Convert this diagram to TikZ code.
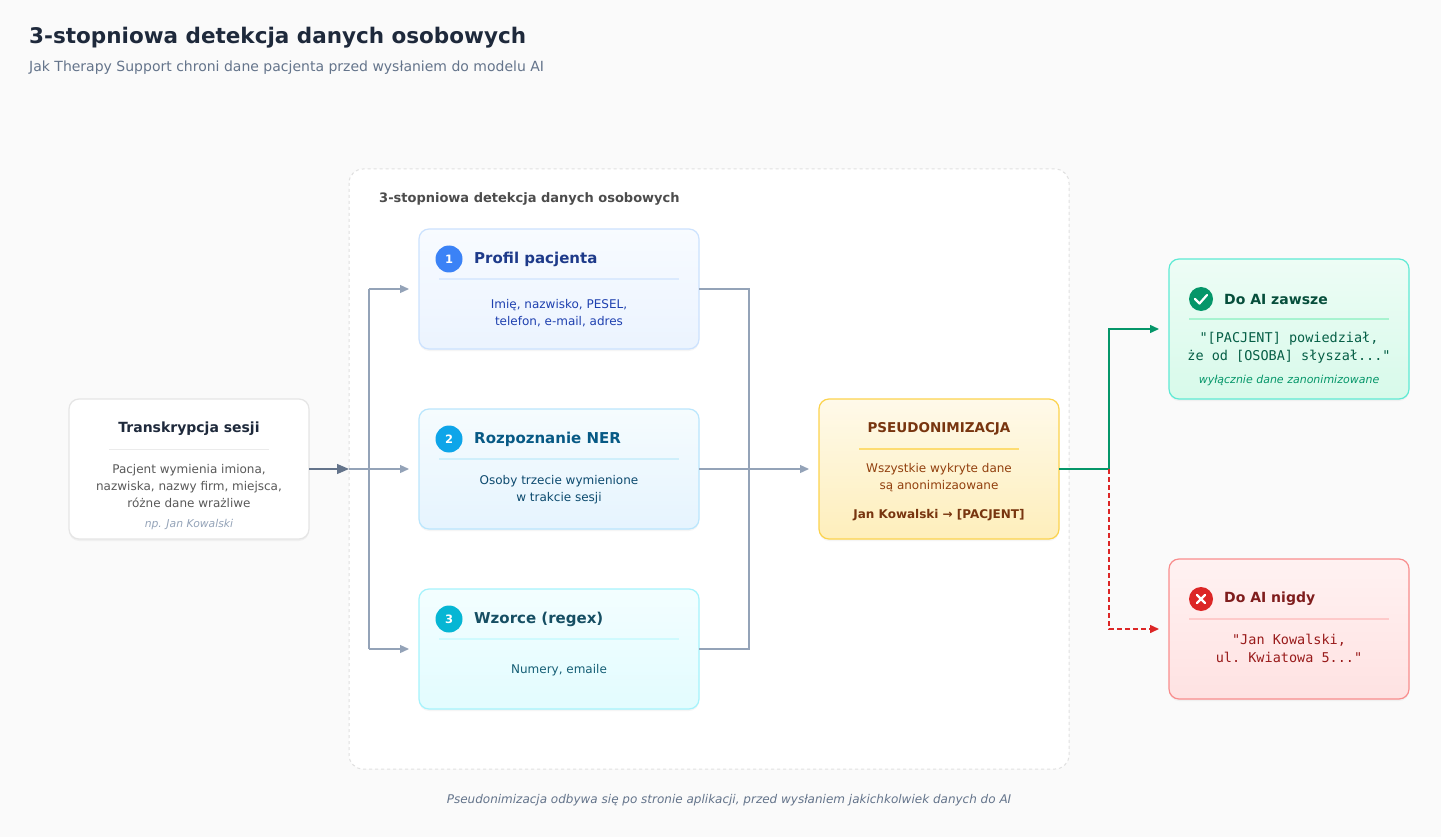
\documentclass[tikz,border=0pt]{standalone}
\usepackage{fontspec}
\setmainfont{DejaVu Sans}
\setmonofont{DejaVu Sans Mono}
\usetikzlibrary{arrows.meta,shadows}
\definecolor{bg}{HTML}{FAFAFA}
\definecolor{slate}{HTML}{64748B}
\definecolor{lslate}{HTML}{94A3B8}
\definecolor{dark}{HTML}{1E293B}
\definecolor{b1f}{HTML}{3B82F6}\definecolor{b1t}{HTML}{1E3A8A}\definecolor{b1x}{HTML}{1E40AF}\definecolor{b1s}{HTML}{BFDBFE}\definecolor{b1l}{HTML}{DBEAFE}
\definecolor{b2f}{HTML}{0EA5E9}\definecolor{b2t}{HTML}{075985}\definecolor{b2x}{HTML}{0C4A6E}\definecolor{b2s}{HTML}{BAE6FD}\definecolor{b2l}{HTML}{CFEFFB}
\definecolor{b3f}{HTML}{06B6D4}\definecolor{b3t}{HTML}{164E63}\definecolor{b3x}{HTML}{155E75}\definecolor{b3s}{HTML}{A5F3FC}\definecolor{b3l}{HTML}{CFFAFE}
\definecolor{pt}{HTML}{78350F}\definecolor{px}{HTML}{92400E}\definecolor{ps}{HTML}{FCD34D}
\definecolor{gf}{HTML}{059669}\definecolor{gt}{HTML}{064E3B}\definecolor{gx}{HTML}{065F46}\definecolor{gs}{HTML}{5EEAD4}\definecolor{gl}{HTML}{A7F3D0}
\definecolor{rf}{HTML}{DC2626}\definecolor{rt}{HTML}{7F1D1D}\definecolor{rx}{HTML}{991B1B}\definecolor{rs}{HTML}{F87171}\definecolor{rl}{HTML}{FECACA}
\begin{document}
\begin{tikzpicture}[x=1pt,y=-1pt,
  box/.style={rounded corners=10pt,line width=1.2pt,drop shadow={opacity=0.08,shadow xshift=0pt,shadow yshift=-2pt}},
  t/.style={inner sep=0pt,anchor=center,align=center},
  conn/.style={line width=1.3pt,draw=lslate},
  tip/.style={-{Triangle[length=9pt,width=8pt]}},
  num/.style={circle,minimum size=27pt,inner sep=0pt,text=white,font=\fontsize{11.5}{12}\selectfont\bfseries}]
\fill[bg] (0,0) rectangle (1441,837);
\useasboundingbox (0,0) rectangle (1441,837);
\node[inner sep=0,anchor=west,text=dark] (title) at (29,38) {\fontsize{21.5}{24}\selectfont\bfseries 3-stopniowa detekcja danych osobowych};
\node[inner sep=0,anchor=west,text=slate] (sub) at (29,68) {\fontsize{14}{16}\selectfont Jak Therapy Support chroni dane pacjenta przed wysłaniem do modelu AI};
% container
\draw[fill=white,draw=black!12,dashed,line width=1pt,rounded corners=14pt] (349,169) rectangle (1069,769);
\node[inner sep=0,anchor=west,text=black!70] (clab) at (379,199) {\fontsize{13}{14}\selectfont\bfseries 3-stopniowa detekcja danych osobowych};
% transcript
\draw[box,fill=white,draw=black!10] (69,399) rectangle (309,539);
\node[t,text=dark] (tr) at (189,429) {\fontsize{14}{15}\selectfont\bfseries Transkrypcja sesji};
\draw[black!8,line width=1pt] (109,449) -- (269,449);
\node[t,text=black!65,font=\fontsize{12}{17}\selectfont] (trt) at (189,486) {Pacjent wymienia imiona,\\nazwiska, nazwy firm, miejsca,\\różne dane wrażliwe};
\node[t,text=lslate] (trx) at (189,525) {\fontsize{10.8}{12}\selectfont\itshape np. Jan Kowalski};
% boxes
\shade[box,top color=b1l!20,bottom color=b1l!55] (419,229) rectangle (699,349);
\draw[rounded corners=10pt,line width=1.2pt,draw=b1s!80] (419,229) rectangle (699,349);
\node[num,fill=b1f] (n1) at (449,259) {1};
\node[inner sep=0,anchor=west,text=b1t] (h1) at (474,259) {\fontsize{15}{17}\selectfont\bfseries Profil pacjenta};
\draw[b1l,line width=1.2pt] (439,279) -- (679,279);
\node[t,text=b1x,font=\fontsize{12}{17}\selectfont] (b1) at (559,313) {Imię, nazwisko, PESEL,\\telefon, e-mail, adres};

\shade[box,top color=b2l!20,bottom color=b2l!50!b1l!60] (419,409) rectangle (699,529);
\draw[rounded corners=10pt,line width=1.2pt,draw=b2s] (419,409) rectangle (699,529);
\node[num,fill=b2f] (n2) at (449,439) {2};
\node[inner sep=0,anchor=west,text=b2t] (h2) at (474,439) {\fontsize{15}{17}\selectfont\bfseries Rozpoznanie NER};
\draw[b2l,line width=1.2pt] (439,459) -- (679,459);
\node[t,text=b2x,font=\fontsize{12}{17}\selectfont] (b2) at (559,490) {Osoby trzecie wymienione\\w trakcie sesji};

\shade[box,top color=b3l!25,bottom color=b3l!60] (419,589) rectangle (699,709);
\draw[rounded corners=10pt,line width=1.2pt,draw=b3s] (419,589) rectangle (699,709);
\node[num,fill=b3f] (n3) at (449,619) {3};
\node[inner sep=0,anchor=west,text=b3t] (h3) at (474,619) {\fontsize{15}{17}\selectfont\bfseries Wzorce (regex)};
\draw[b3l,line width=1.2pt] (439,639) -- (679,639);
\node[t,text=b3x] (b3) at (559,670) {\fontsize{12}{14}\selectfont Numery, emaile};

% pseudo
\shade[box,top color=ps!12,bottom color=ps!38] (819,399) rectangle (1059,539);
\draw[rounded corners=10pt,line width=1.2pt,draw=ps] (819,399) rectangle (1059,539);
\node[t,text=pt] (psn) at (939,429) {\fontsize{13.5}{15}\selectfont\bfseries PSEUDONIMIZACJA};
\draw[ps!80,line width=1.2pt] (859,449) -- (1019,449);
\node[t,text=px,font=\fontsize{12}{17}\selectfont] (pst) at (939,478) {Wszystkie wykryte dane\\są anonimizaowane};
\node[t,text=pt] (psx) at (939,515) {\fontsize{12}{14}\selectfont\bfseries Jan Kowalski → [PACJENT]};

% green
\shade[box,top color=gl!20,bottom color=gl!45] (1169,259) rectangle (1409,399);
\draw[rounded corners=10pt,line width=1.2pt,draw=gs] (1169,259) rectangle (1409,399);
\node[circle,fill=gf,minimum size=24pt,inner sep=0] (c1) at (1201,299) {};
\draw[white,line width=2.2pt,line cap=round,line join=round] (1195,299) -- (1199.5,303.5) -- (1207,295);
\node[inner sep=0,anchor=west,text=gt] (g1) at (1224,299) {\fontsize{14}{15}\selectfont\bfseries Do AI zawsze};
\draw[gl,line width=1.2pt] (1189,319) -- (1389,319);
\node[t,text=gx,font=\ttfamily\fontsize{13.5}{18}\selectfont] (gtx) at (1289,348) {"[PACJENT] powiedział,\\że od [OSOBA] słyszał..."};
\node[t,text=gf] (gxx) at (1289,380) {\fontsize{11}{12}\selectfont\itshape wyłącznie dane zanonimizowane};

% red
\shade[box,top color=rl!25,bottom color=rl!55] (1169,559) rectangle (1409,699);
\draw[rounded corners=10pt,line width=1.2pt,draw=rs!80] (1169,559) rectangle (1409,699);
\node[circle,fill=rf,minimum size=24pt,inner sep=0] (c2) at (1201,599) {};
\draw[white,line width=2.2pt,line cap=round] (1197,595) -- (1205,603) (1205,595) -- (1197,603);
\node[inner sep=0,anchor=west,text=rt] (r1) at (1224,599) {\fontsize{14}{15}\selectfont\bfseries Do AI nigdy};
\draw[rl,line width=1.2pt] (1189,619) -- (1389,619);
\node[t,text=rx,font=\ttfamily\fontsize{13.5}{18}\selectfont] (rtx) at (1289,648) {"Jan Kowalski,\\ul. Kwiatowa 5..."};

% connectors
\coordinate (m) at (749,469);
\coordinate (sp) at (1109,469);
\draw[conn,draw=slate,-{Triangle[length=12pt,width=10pt]}] (309,469) -- (349,469);
\draw[conn] (369,289) -- (369,649);
\draw[conn,tip] (369,289) -- (409,289);
\draw[conn,tip] (349,469) -- (409,469);
\draw[conn,tip] (369,649) -- (409,649);
\draw[conn] (699,289) -| (m) |- (699,649);
\draw[conn,tip] (699,469) -- (809,469);
\draw[line width=1.5pt,draw=gf,tip] (1059,469) -- (sp) |- (1159,329);
\draw[line width=1.5pt,draw=rf,dash pattern=on 5pt off 3pt,tip] (sp) |- (1159,629);

\node[t,text=slate] (foot) at (729,800) {\fontsize{12}{14}\selectfont\itshape Pseudonimizacja odbywa się po stronie aplikacji, przed wysłaniem jakichkolwiek danych do AI};
\end{tikzpicture}
\end{document}
